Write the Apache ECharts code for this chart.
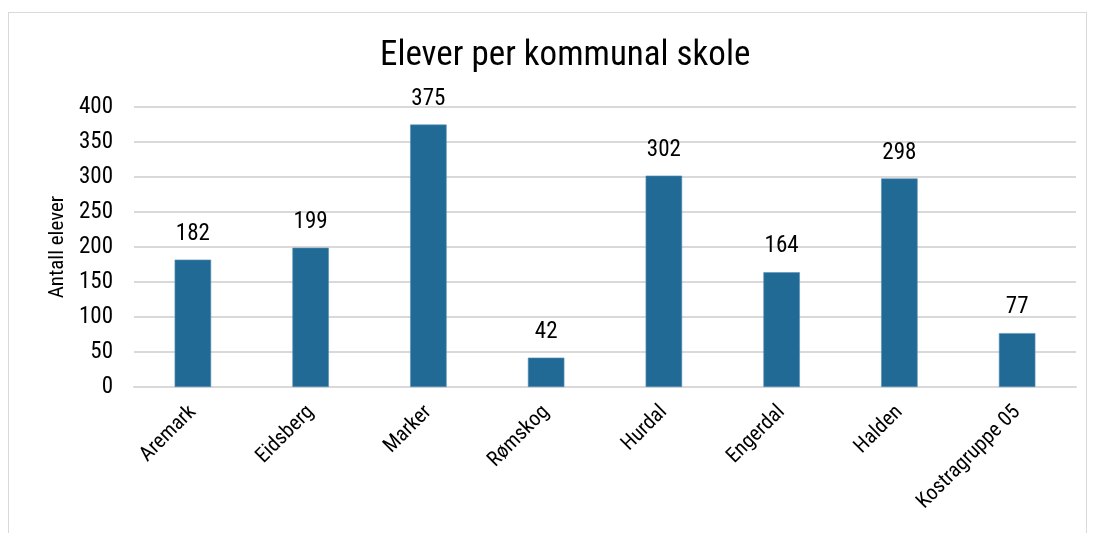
<!DOCTYPE html>
<html>
<head>
<meta charset="utf-8">
<script src="https://cdn.jsdelivr.net/npm/echarts@6/dist/echarts.min.js"></script>
<style>
  html, body { margin: 0; padding: 0; background: #fff; }
  #chart { width: 1093px; height: 533px; }
  #frame { position: absolute; left: 8px; top: 12px; width: 1077px; height: 540px; border: 1px solid #d9d9d9; pointer-events: none; }
</style>
</head>
<body>
<div id="chart"></div>
<div id="frame"></div>
<script>
const categories = ['Aremark', 'Eidsberg', 'Marker', 'Rømskog', 'Hurdal', 'Engerdal', 'Halden', 'Kostragruppe 05']
const elever = [182, 199, 375, 42, 302, 164, 298, 77]

const font = '"Roboto Condensed", "Liberation Sans", sans-serif'

const chart = echarts.init(document.getElementById('chart'))

chart.setOption({
  animation: false,
  title: {
    text: 'Elever per kommunal skole',
    left: 375,
    top: 34,
    textStyle: {
      fontFamily: font,
      fontSize: 35,
      fontWeight: 'normal',
      color: '#000'
    }
  },
  grid: {
    left: 134,
    right: 17,
    top: 107,
    bottom: 146
  },
  xAxis: {
    type: 'category',
    data: categories,
    axisLine: { lineStyle: { color: '#d9d9d9', width: 2 } },
    axisTick: { show: false },
    axisLabel: {
      rotate: 45,
      interval: 0,
      margin: 22,
      fontFamily: font,
      fontSize: 21,
      color: '#000'
    }
  },
  yAxis: {
    type: 'value',
    min: 0,
    max: 400,
    interval: 50,
    name: 'Antall elever',
    nameLocation: 'middle',
    nameGap: 63,
    nameTextStyle: {
      fontFamily: font,
      fontSize: 21,
      color: '#000'
    },
    axisLine: { show: false },
    axisTick: { show: false },
    axisLabel: {
      margin: 21,
      fontFamily: font,
      fontSize: 23,
      color: '#000'
    },
    splitLine: { lineStyle: { color: '#d9d9d9', width: 2 } }
  },
  series: [
    {
      name: 'Antall elever',
      type: 'bar',
      data: elever,
      barWidth: '31%',
      itemStyle: {
        color: '#226a96',
        borderColor: '#5b93b8',
        borderWidth: 0.6
      },
      label: {
        show: true,
        position: 'top',
        distance: 14,
        fontFamily: font,
        fontSize: 23,
        color: '#000'
      }
    }
  ]
})
</script>
</body>
</html>
